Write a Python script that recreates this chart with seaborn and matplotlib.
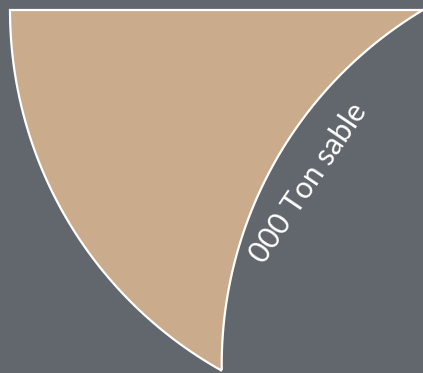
import numpy as np
import matplotlib
matplotlib.use("Agg")
import matplotlib.pyplot as plt
import seaborn as sns
from matplotlib.patches import Polygon

# data
categories = ["Ton sable"]
amounts = ["000"]
shares = [0.169]          # fraction of the full circle taken by the slice
colors = ["#caab8c"]

bg = "#62666d"
sns.set_theme(style="dark", rc={"axes.facecolor": bg, "figure.facecolor": bg})
plt.rcParams['font.family'] = ['Lato', 'DejaVu Sans']

fig = plt.figure(figsize=(4.23, 3.73), dpi=100)
ax = fig.add_axes([0, 0, 1, 1])
ax.set_facecolor(bg)

# slice starts at the left (180 deg) and sweeps downwards
start = 180.0
theta = np.deg2rad(start + 360 * shares[0])
t0 = np.deg2rad(start)
outer = np.linspace(t0, theta, 200)
arc_pts = np.column_stack([np.cos(outer), np.sin(outer)])

# curved return edge: arc of radius 1 through the outer point and the centre
P = np.array([np.cos(theta), np.sin(theta)])
B = np.array([np.cos(theta + np.pi / 3), np.sin(theta + np.pi / 3)])
a1 = np.arctan2(*(P - B)[::-1])
a2 = np.arctan2(*(-B)[::-1])
if a2 - a1 > np.pi:
    a2 -= 2 * np.pi
elif a1 - a2 > np.pi:
    a2 += 2 * np.pi
ret = np.linspace(a1, a2, 200)
ret_pts = B + np.column_stack([np.cos(ret), np.sin(ret)])

pts = np.vstack([[[0, 0]], arc_pts, ret_pts])
ax.add_patch(Polygon(pts, closed=True, facecolor=colors[0], edgecolor="white",
                     linewidth=1.6, joinstyle="miter"))

# label along the curved edge
M = P / 2
d = (M - B) / np.linalg.norm(M - B)
lp = B + 0.905 * d
ax.text(lp[0], lp[1], f"{amounts[0]} {categories[0]}", color="white",
        fontsize=21.5, rotation=56, ha="center", va="center",
        rotation_mode="anchor")

R_px = 413.0
ax.set_xlim(-423 / R_px, 0)
ax.set_ylim(-363 / R_px, 10 / R_px)
ax.set_aspect("equal")
ax.axis("off")

fig.savefig("out.png", dpi=100, facecolor=bg)
